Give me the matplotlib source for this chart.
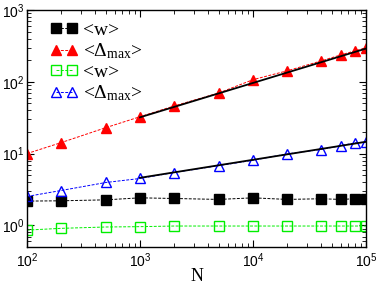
import matplotlib
matplotlib.use('Agg')
import matplotlib.pyplot as plt
import numpy as np

plt.rcParams['font.family'] = ['Liberation Sans', 'DejaVu Sans']
plt.rcParams['mathtext.fontset'] = 'custom'
plt.rcParams['mathtext.rm'] = 'Liberation Serif'
plt.rcParams['mathtext.it'] = 'Liberation Serif'

# данные
N = [100, 200, 500, 1000, 2000, 5000, 10000, 20000, 40000, 60000, 80000, 100000]
w_black = [2.18, 2.2, 2.27, 2.42, 2.37, 2.3, 2.42, 2.3, 2.35, 2.3, 2.35, 2.3]
dmax_red = [10.0, 14.2, 23, 32.6, 46, 70, 107, 142, 195, 237, 270, 297]
w_green = [0.86, 0.91, 0.95, 0.96, 0.98, 0.98, 0.98, 0.98, 0.98, 0.98, 0.98, 0.98]
dmax_blue = [2.53, 3.06, 3.96, 4.5, 5.45, 6.8, 8.07, 9.9, 11.4, 12.9, 14.1, 14.5]

# концы аппроксимирующих прямых
fit_x = [1000, 100000]
fit_red = [32.0, 290]
fit_blue = [4.6, 14.6]

fig = plt.figure(figsize=(3.79, 2.85), dpi=100)
ax = fig.add_axes([0.0712, 0.1333, 0.8945, 0.8317])

ax.plot(N, w_black, 's--', color='black', mfc='black', ms=6.5, lw=0.7, dashes=(3, 1.5),
        label='<w>')
ax.plot(N, dmax_red, '^--', color='red', mfc='red', ms=7.5, lw=0.7, dashes=(3, 1.5),
        label=r'<$\Delta_{\mathrm{max}}$>')
ax.plot(N, w_green, 's--', color='#00ee00', mfc='none', ms=6.5, lw=0.7, dashes=(3, 1.5),
        label='<w>')
ax.plot(N, dmax_blue, '^--', color='blue', mfc='none', ms=7.5, lw=0.7, dashes=(3, 1.5),
        label=r'<$\Delta_{\mathrm{max}}$>')

ax.plot(fit_x, fit_red, '-', color='black', lw=1.3)
ax.plot(fit_x, fit_blue, '-', color='black', lw=1.3)

ax.set_xscale('log')
ax.set_yscale('log')
ax.set_xlim(100, 100000)
ax.set_ylim(0.5, 1000)

ax.tick_params(which='both', direction='in', top=True, right=True, labelsize=10)
ax.tick_params(which='major', length=5, width=0.8)
ax.tick_params(which='minor', length=3, width=0.6)
ax.tick_params(axis='y', pad=2)
for s in ax.spines.values():
    s.set_linewidth(1.0)

ax.set_xlabel('N', family='Liberation Serif', fontsize=13, labelpad=-2)

leg = ax.legend(loc='upper left', bbox_to_anchor=(0.035, 1.0), frameon=False, numpoints=2,
                handlelength=1.4, handletextpad=0.25, labelspacing=0.12, borderaxespad=0.2,
                prop={'family': 'Liberation Serif', 'size': 14})

fig.savefig('out.png', dpi=100)
